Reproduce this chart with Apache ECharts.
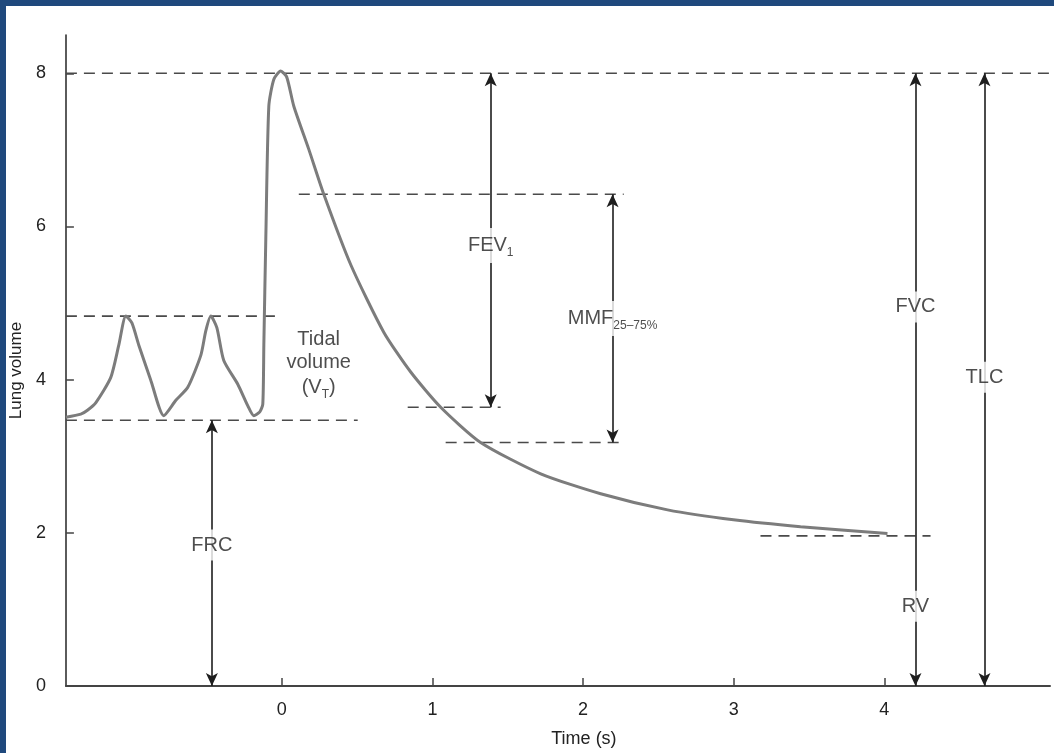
<!DOCTYPE html>
<html><head><meta charset="utf-8">
<script src="https://cdn.jsdelivr.net/npm/echarts@6/dist/echarts.min.js"></script>
<style>html,body{margin:0;padding:0;background:#fff}#c{width:1054px;height:753px}</style>
</head><body><div id="c"></div>
<script>
// Spirogram trace: time (s) vs lung volume (L)
const timeS = [-1.433,-1.334,-1.290,-1.234,-1.135,-1.082,-1.035,-0.995,-0.949,-0.869,-0.783,-0.703,-0.624,-0.537,-0.504,-0.471,-0.431,-0.385,-0.292,-0.226,-0.186,-0.146,-0.126,-0.119,-0.106,-0.086,-0.053,-0.007,0.033,0.080,0.179,0.279,0.458,0.677,0.856,1.055,1.320,1.719,2.117,2.561,2.999,3.444,4.021];
const lungVolume = [3.51,3.55,3.60,3.70,4.03,4.45,4.83,4.74,4.45,3.99,3.53,3.73,3.90,4.32,4.64,4.83,4.68,4.25,3.94,3.66,3.53,3.58,3.68,4.45,5.84,7.57,7.92,8.03,7.95,7.57,7.01,6.42,5.50,4.62,4.10,3.64,3.18,2.77,2.51,2.30,2.17,2.08,1.99];

const xTickValues = [0,1,2,3,4];
const yTickValues = [0,2,4,6,8];

// dashed reference levels
const refStart = [-1.433,-1.433,-1.433,0.113,0.836,1.088,3.178];
const refEnd   = [5.1,-0.027,0.504,2.270,1.453,2.283,4.307];
const refLevel = [8.0,4.83,3.47,6.42,3.64,3.18,1.96];

// vertical dimension arrows
const dimTime   = [-0.464,1.387,2.196,4.207,4.665];
const dimTop    = [3.47,8.0,6.42,8.0,8.0];
const dimBottom = [0,3.64,3.18,0,0];

// annotation labels
const labelText = ['FRC','FEV{s|1}','MMF{s|25–75%}','FVC','RV','TLC','Tidal\nvolume\n(V{s|T})'];
const labelTime = [-0.464,1.387,2.196,4.207,4.207,4.665,0.245];
const labelVol  = [1.84,5.75,4.80,4.95,1.04,4.03,4.20];
const labelBox  = [true,true,true,true,true,true,false];

const chart = echarts.init(document.getElementById('c'));
const font = 'Liberation Sans, Arial, Helvetica, sans-serif';

const series = [];
series.push({
  type:'line', name:'volume', data: timeS.map((t,i)=>[t,lungVolume[i]]),
  showSymbol:false, smooth:0.22, z:3,
  lineStyle:{color:'#7c7c7c', width:3},
  markLine:{
    silent:true, animation:false, symbol:['arrow','arrow'], symbolSize:[9,13],
    label:{show:false},
    lineStyle:{color:'#1e1e1e', width:1.6, type:'solid'},
    data: dimTime.map((t,i)=>[{coord:[t,dimTop[i]]},{coord:[t,dimBottom[i]]}])
  }
});
refLevel.forEach((v,i)=>{
  series.push({
    type:'line', data:[[refStart[i],v],[refEnd[i],v]], showSymbol:false, silent:true, z:2,
    lineStyle:{color:'#4a4a4a', width:1.6, type:[11,7]}
  });
});
series.push({
  type:'scatter', symbolSize:1, silent:true, z:10,
  itemStyle:{color:'rgba(0,0,0,0)'},
  data: labelTime.map((t,i)=>({
    value:[t,labelVol[i]],
    label:{
      show:true, position:'inside', formatter:labelText[i],
      color:'#222', fontSize:20, fontFamily:font, lineHeight:23,
      textBorderWidth:0,
      backgroundColor: labelBox[i] ? '#fff' : 'transparent',
      padding: labelBox[i] ? [4,2,4,2] : 0,
      rich:{s:{fontSize:12, fontFamily:font, color:'#222', verticalAlign:'bottom', lineHeight:27, textBorderWidth:0}}
    }
  }))
});

chart.setOption({
  animation:false,
  backgroundColor:'#fff',
  grid:{left:65, right:4, top:35, bottom:63},
  xAxis:{
    type:'value', min:-1.433, max:5.1,
    name:'Time (s)', nameLocation:'middle', nameGap:44,
    nameTextStyle:{color:'#222', fontSize:18, fontFamily:font, padding:[0,0,0,52]},
    axisLine:{show:true, onZero:false, lineStyle:{color:'#444', width:2}},
    axisTick:{show:true, customValues:xTickValues, inside:true, length:8, lineStyle:{color:'#444', width:1.5}},
    axisLabel:{show:true, customValues:xTickValues, color:'#222', fontSize:18, fontFamily:font, margin:15},
    splitLine:{show:false}
  },
  yAxis:{
    type:'value', min:0, max:8.5,
    name:'Lung volume', nameLocation:'middle', nameGap:36, nameRotate:90,
    nameTextStyle:{color:'#222', fontSize:17, fontFamily:font, padding:[0,20,0,0]},
    axisLine:{show:true, onZero:false, lineStyle:{color:'#333', width:1.6}},
    axisTick:{show:true, customValues:yTickValues, inside:true, length:8, lineStyle:{color:'#444', width:1.5}},
    axisLabel:{show:true, customValues:yTickValues, color:'#222', fontSize:18, fontFamily:font, margin:20},
    splitLine:{show:false}
  },
  graphic:[
    {type:'rect', shape:{x:0,y:0,width:1054,height:6}, style:{fill:'#1f497d'}, silent:true},
    {type:'rect', shape:{x:0,y:0,width:6,height:753}, style:{fill:'#1f497d'}, silent:true}
  ],
  series: series
});
</script></body></html>
